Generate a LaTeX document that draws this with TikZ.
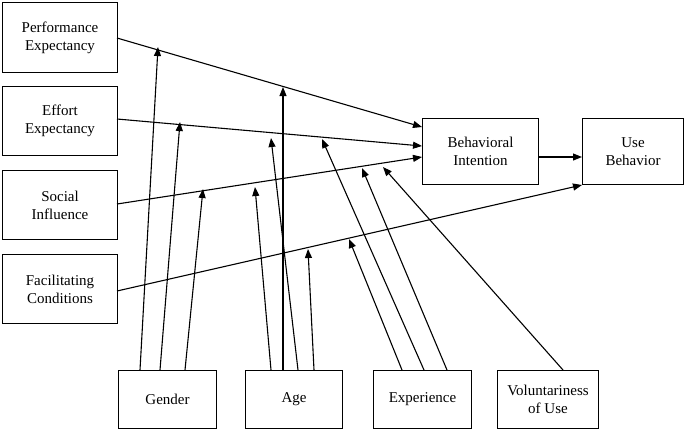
\documentclass[tikz,border=0pt]{standalone}
\usepackage{fontspec}
\setmainfont{Liberation Serif}
\usetikzlibrary{arrows.meta}
\begin{document}
\begin{tikzpicture}[x=1pt,y=-1pt,
  box/.style={draw,line width=1pt,inner sep=0pt,align=center,font=\fontsize{15}{18}\selectfont,anchor=north west},
  arr/.style={line width=1.1pt,-{Triangle[length=9pt,width=7pt]}}]
\useasboundingbox (0,0) rectangle (685,429);
\node[box,minimum width=115,minimum height=70] (pe) at (2,2) {Performance\\Expectancy};
\node[box,minimum width=115,minimum height=69] (ee) at (2,86) {Effort\\Expectancy};
\node[box,minimum width=115,minimum height=69] (si) at (2,170) {Social\\Influence};
\node[box,minimum width=115,minimum height=69] (fc) at (2,254) {Facilitating\\Conditions};
\node[box,minimum width=116,minimum height=66] (bi) at (422,118) {Behavioral\\Intention};
\node[box,minimum width=101,minimum height=66] (ub) at (582,118) {Use\\Behavior};
\node[box,minimum width=98,minimum height=58] (g) at (118,370) {Gender};
\node[box,minimum width=97,minimum height=58] (a) at (245,370) {Age};
\node[box,minimum width=98,minimum height=58] (e) at (373,370) {Experience};
\node[box,minimum width=101,minimum height=58] (v) at (497,370) {Voluntariness\\of Use};
% main paths
\coordinate (pes) at (117,38); \coordinate (pet) at (422,127);
\coordinate (ees) at (117,119); \coordinate (eet) at (422,146);
\coordinate (sis) at (117,204); \coordinate (sit) at (422,157);
\coordinate (fcs) at (117,291); \coordinate (fct) at (582,185);
\draw[arr] (pes) -- (pet);
\draw[arr] (ees) -- (eet);
\draw[arr] (sis) -- (sit);
\draw[arr] (fcs) -- (fct);
\draw[arr] (bi.east |- 0,157) -- (ub.west |- 0,157);
% moderator targets
\coordinate (m1) at (158,47); \coordinate (m2) at (180,122); \coordinate (m3) at (203,189);
\coordinate (m4) at (255,187); \coordinate (m5) at (283,87); \coordinate (m6) at (271,138); \coordinate (m7) at (308,249);
\coordinate (m8) at (349,239); \coordinate (m9) at (322,139); \coordinate (m10) at (362,168);
\coordinate (m11) at (383,167);
% moderator sources
\coordinate (g1) at (140,370); \coordinate (g2) at (160,370); \coordinate (g3) at (185,370);
\coordinate (a1) at (271,370); \coordinate (a2) at (283,370); \coordinate (a3) at (298,370); \coordinate (a4) at (314,370);
\coordinate (e1) at (402,370); \coordinate (e2) at (424,370); \coordinate (e3) at (447,370);
\coordinate (v1) at (563,370);
\draw[arr] (g1) -- (m1); \draw[arr] (g2) -- (m2); \draw[arr] (g3) -- (m3);
\draw[arr] (a1) -- (m4); \draw[arr] (a2) -- (m5); \draw[arr] (a3) -- (m6); \draw[arr] (a4) -- (m7);
\draw[arr] (e1) -- (m8); \draw[arr] (e2) -- (m9); \draw[arr] (e3) -- (m10);
\draw[arr] (v1) -- (m11);
\end{tikzpicture}
\end{document}
